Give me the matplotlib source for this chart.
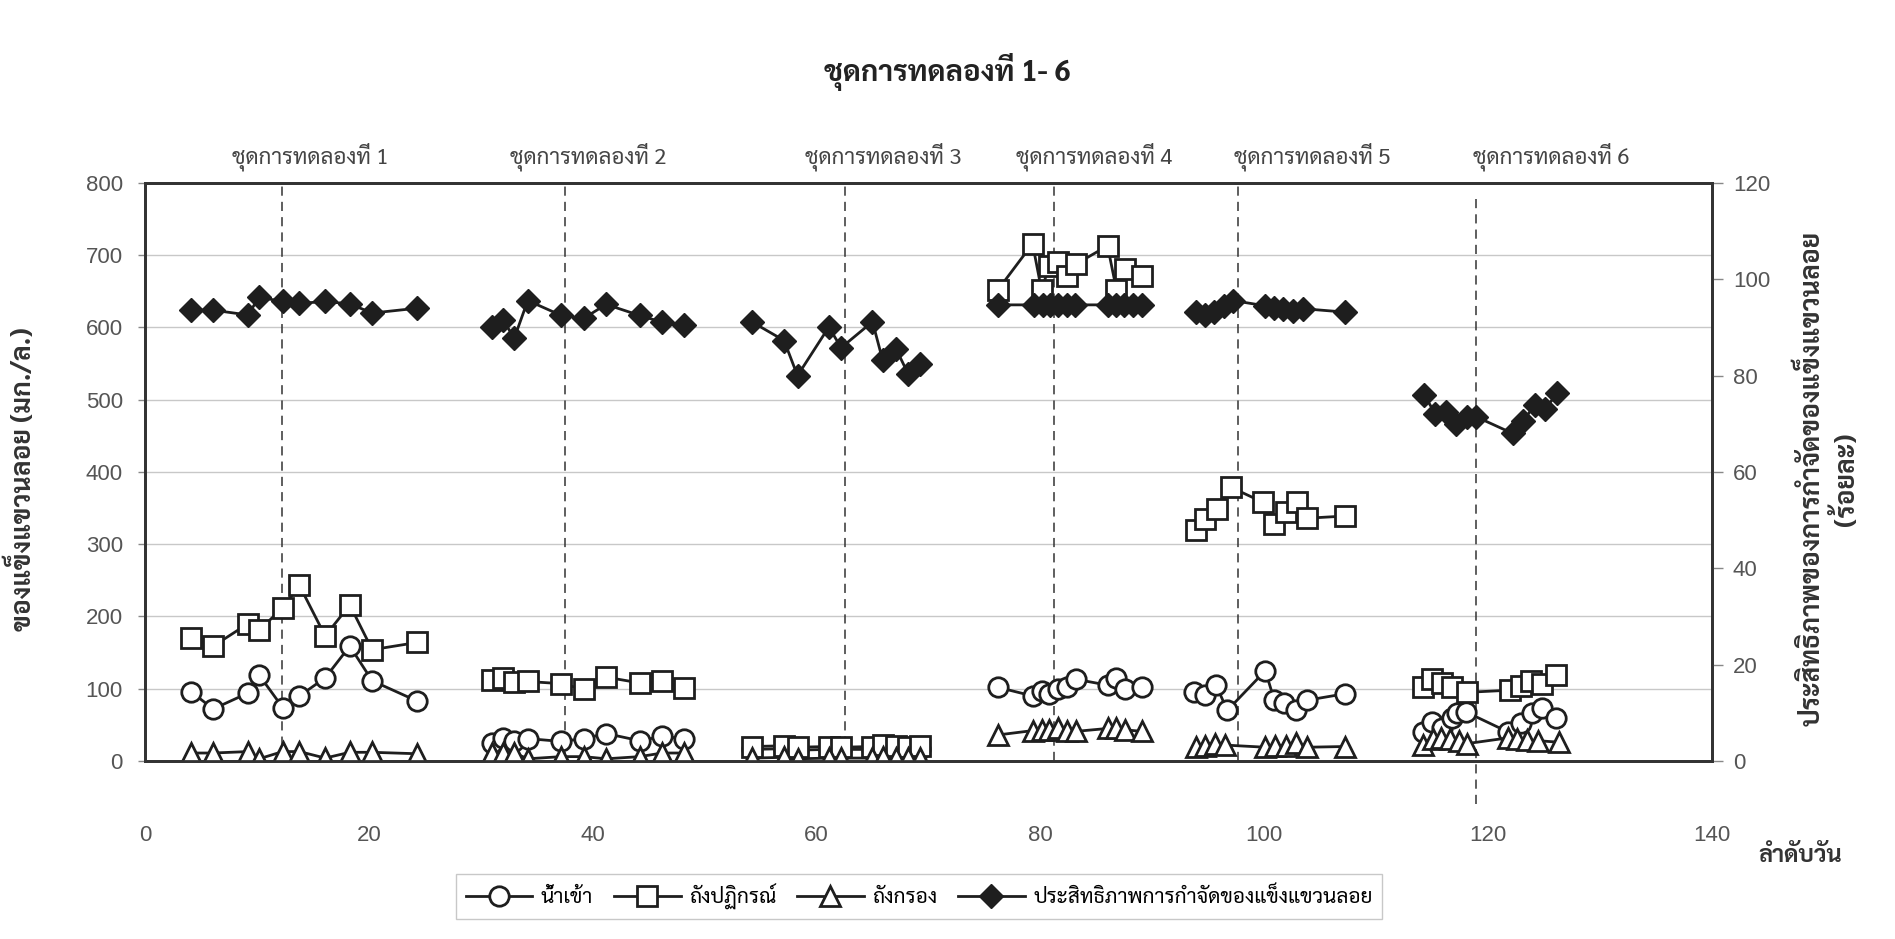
import numpy as np
import matplotlib
matplotlib.use("Agg")
import matplotlib.pyplot as plt
from matplotlib import font_manager as fm
from matplotlib.ft2font import FT2Font
from matplotlib.lines import Line2D
import matplotlib.transforms as mtransforms

nan = np.nan

# ---------------- data ----------------
# day number (x) and values; nan separates the six experiment sets
influent_day = [4.1, 6.1, 9.2, 10.2, 12.3, 13.8, 16.1, 18.3, 20.3, 24.3, nan,
                31.0, 32.0, 33.0, 34.2, 37.2, 39.2, 41.2, 44.2, 46.2, 48.2, nan,
                54.2, 57.1, 58.3, 61.1, 62.2, 65.0, 65.9, 67.1, 68.2, 69.2, nan,
                76.2, 79.3, 80.1, 80.8, 81.6, 82.4, 83.2, 86.0, 86.8, 87.6, 89.1, nan,
                93.7, 94.7, 95.7, 96.7, 100.1, 100.9, 101.8, 102.8, 103.8, 107.2, nan,
                114.2, 115.0, 115.9, 116.8, 117.2, 118.0, 121.8, 122.9, 123.9, 124.8, 126.1]
influent_ss = [96, 72, 94, 119, 74, 90, 115, 159, 111, 83, nan,
               25, 32, 28, 31, 27, 31, 38, 28, 34, 31, nan,
               16, 17, 15, 16, 16, 16, 18, 16, 16, 17, nan,
               102, 90, 97, 93, 99, 103, 113, 105, 115, 99, 102, nan,
               96, 92, 105, 70, 125, 84, 80, 70, 84, 93, nan,
               40, 54, 46, 60, 66, 68, 40, 53, 66, 73, 60]

reactor_day = [4.1, 6.1, 9.2, 10.2, 12.3, 13.8, 16.1, 18.3, 20.3, 24.3, nan,
               31.0, 32.0, 33.0, 34.2, 37.2, 39.2, 41.2, 44.2, 46.2, 48.2, nan,
               54.2, 57.1, 58.3, 61.1, 62.2, 65.0, 65.9, 67.1, 68.2, 69.2, nan,
               76.2, 79.3, 80.1, 80.8, 81.6, 82.4, 83.2, 86.0, 86.8, 87.6, 89.1, nan,
               93.9, 94.7, 95.8, 97.0, 99.9, 100.9, 101.9, 102.9, 103.8, 107.2, nan,
               114.2, 115.0, 115.9, 116.8, 118.1, 122.0, 122.9, 123.8, 124.8, 126.1]
reactor_ss = [170, 159, 190, 181, 212, 243, 173, 216, 154, 164, nan,
              112, 115, 109, 110, 107, 99, 116, 108, 110, 101, nan,
              20, 21, 19, 20, 19, 20, 22, 21, 20, 21, nan,
              652, 716, 652, 685, 691, 671, 688, 713, 652, 681, 671, nan,
              320, 335, 349, 379, 358, 328, 344, 358, 336, 339, nan,
              103, 113, 108, 103, 95, 98, 104, 110, 106, 119]

filter_day = [4.1, 6.1, 9.2, 10.2, 12.3, 13.8, 16.1, 18.3, 20.3, 24.3, nan,
              31.0, 32.0, 33.0, 34.2, 37.2, 39.2, 41.2, 44.2, 46.2, 48.2, nan,
              54.2, 57.1, 58.3, 61.1, 62.2, 65.0, 65.9, 67.1, 68.2, 69.2, nan,
              76.2, 79.3, 80.1, 80.8, 81.6, 82.4, 83.2, 86.0, 86.8, 87.6, 89.1, nan,
              93.9, 94.7, 95.6, 96.5, 100.1, 101.0, 101.9, 102.8, 103.8, 107.2, nan,
              114.2, 115.1, 115.8, 116.6, 117.4, 118.1, 121.8, 122.6, 123.5, 124.5, 126.3]
filter_ss = [11, 11, 13, 3, 13, 13, 4, 12, 12, 10, nan,
             11, 11, 11, 3, 6, 6, 3, 6, 11, 11, nan,
             4, 5, 3, 4, 4, 4, 5, 4, 4, 4, nan,
             36, 42, 43, 43, 45, 41, 41, 45, 45, 43, 41, nan,
             20, 21, 23, 22, 19, 21, 21, 25, 19, 20, nan,
             22, 30, 32, 30, 28, 24, 32, 30, 29, 28, 26]

eff_day = [4.1, 6.1, 9.2, 10.2, 12.3, 13.8, 16.1, 18.3, 20.3, 24.3, nan,
           31.0, 32.0, 33.0, 34.2, 37.2, 39.2, 41.2, 44.2, 46.2, 48.2, nan,
           54.2, 57.1, 58.3, 61.1, 62.2, 65.0, 65.9, 67.1, 68.2, 69.2, nan,
           76.2, 79.4, 80.2, 80.9, 81.6, 82.4, 83.1, 86.0, 86.8, 87.5, 88.3, 89.1, nan,
           93.9, 94.7, 95.5, 96.4, 97.2, 100.1, 100.9, 101.7, 102.6, 103.5, 107.2, nan,
           114.3, 115.3, 116.2, 117.1, 118.1, 118.9, 122.2, 123.1, 124.2, 125.1, 126.2]
eff_pct = [93.6, 93.6, 92.6, 96.3, 95.4, 95.0, 95.4, 94.9, 93.0, 94.0, nan,
           90.2, 91.5, 87.8, 95.6, 92.5, 91.9, 94.8, 92.5, 91.1, 90.5, nan,
           91.2, 87.3, 80.0, 90.1, 85.8, 91.2, 83.3, 85.6, 80.3, 82.4, nan,
           94.7, 94.7, 94.7, 94.7, 94.7, 94.7, 94.7, 94.7, 94.7, 94.7, 94.7, 94.7, nan,
           93.3, 92.5, 93.3, 94.5, 95.6, 94.5, 94.1, 93.8, 93.5, 93.9, 93.2, nan,
           76.0, 72.0, 72.5, 70.0, 71.5, 71.5, 68.0, 70.5, 74.0, 73.0, 76.5]

# dashed separators and set labels
set_names = ["ชุดการทดลองที่ 1", "ชุดการทดลองที่ 2", "ชุดการทดลองที่ 3",
             "ชุดการทดลองที่ 4", "ชุดการทดลองที่ 5", "ชุดการทดลองที่ 6"]
set_label_day = [14.8, 39.6, 66.0, 84.8, 104.3, 125.6]
divider_day = [12.2, 37.5, 62.5, 81.2, 97.7, 118.9]

x_ticks = [0, 20, 40, 60, 80, 100, 120, 140]
left_ticks = [0, 100, 200, 300, 400, 500, 600, 700, 800]
right_ticks = [0, 20, 40, 60, 80, 100, 120]

title_text = "ชุดการทดลองที่ 1- 6"
ylabel_left = "ของแข็งแขวนลอย (มก./ล.)"
ylabel_right = "ประสิทธิภาพของการกำจัดของแข็งแขวนลอย\n(ร้อยละ)"
xlabel_text = "ลำดับวัน"
legend_labels = ["น้ำเข้า", "ถังปฏิกรณ์", "ถังกรอง",
                 "ประสิทธิภาพการกำจัดของแข็งแขวนลอย"]

# ---------------- fonts ----------------
def has_thai(path):
    try:
        return 0x0E01 in FT2Font(path).get_charmap()
    except Exception:
        return False

thai_names = {f.name for f in fm.fontManager.ttflist if has_thai(f.fname)}
thai_font = None
for p in ["Sarabun", "Noto Sans Thai Looped", "Noto Sans Thai", "Loma", "Garuda"]:
    if p in thai_names:
        thai_font = p
        break
if thai_font is None and thai_names:
    thai_font = sorted(thai_names)[0]
fam = [thai_font, "DejaVu Sans"] if thai_font else ["DejaVu Sans"]
plt.rcParams["font.family"] = fam
digit_font = "Liberation Sans"

ink = "#1e1e1e"
gray_txt = "#555555"

fig = plt.figure(figsize=(18.95, 9.39), dpi=100)
fig.patch.set_facecolor("white")
ax = fig.add_axes([0.0765, 0.1896, 0.8269, 0.6155])
ax2 = ax.twinx()

ax.set_xlim(0, 140)
ax.set_ylim(0, 800)
ax2.set_ylim(0, 120)

ax.yaxis.grid(True, color="#c8c8c8", lw=1.0)
ax.set_axisbelow(True)

for d in divider_day[:5]:
    ax.plot([d, d], [0, 800], ls=(0, (6, 4)), color="#333333", lw=1.1, zorder=1)
ax.plot([divider_day[5]] * 2, [778, -60], ls=(0, (6, 4)), color="#333333",
        lw=1.1, zorder=1, clip_on=False)

kw = dict(color=ink, lw=2.0, mec=ink, mew=2.0, mfc="white")
ax.plot(influent_day, influent_ss, marker="o", ms=14, zorder=3, **kw)
ax.plot(reactor_day, reactor_ss, marker="s", ms=15, zorder=4, **kw)
ax.plot(filter_day, filter_ss, marker="^", ms=14, zorder=5, **kw)
ax2.plot(eff_day, eff_pct, marker="D", ms=12, color=ink, lw=2.0, mec=ink,
         mfc=ink, zorder=6)

for a in (ax, ax2):
    for s in a.spines.values():
        s.set_color("#333333")
        s.set_linewidth(2.0)

ax.set_xticks(x_ticks)
ax.set_xticklabels([str(v) for v in x_ticks], fontfamily=digit_font)
ax.tick_params(axis="x", length=0, pad=46, labelsize=16, labelcolor=gray_txt)
ax.set_yticks(left_ticks)
ax.set_yticklabels([str(v) for v in left_ticks], fontfamily=digit_font)
ax.tick_params(axis="y", length=5, width=1, color="#888888", pad=11,
               labelsize=16, labelcolor=gray_txt)
ax2.set_yticks(right_ticks)
ax2.set_yticklabels([str(v) for v in right_ticks], fontfamily=digit_font)
ax2.tick_params(axis="y", length=8, width=1, color="#888888", pad=7,
                labelsize=16, labelcolor=gray_txt)

trans = mtransforms.blended_transform_factory(ax.transData, ax.transAxes)
for name, d in zip(set_names, set_label_day):
    ax.text(d, 1.045, name, transform=trans, ha="center", va="center",
            fontsize=16, color="#444444")

fig.text(0.5, 0.923, title_text, ha="center", va="center", fontsize=21,
         fontweight="bold", color="#222222")
fig.text(0.0116, 0.49, ylabel_left, rotation=90, ha="center", va="center",
         fontsize=19, fontweight="bold", color="#333333")
fig.text(0.965, 0.49, ylabel_right, rotation=90, ha="center", va="center",
         multialignment="center", fontsize=19, fontweight="bold",
         color="#333333", linespacing=1.25)
fig.text(0.950, 0.088, xlabel_text, ha="center", va="center", fontsize=17,
         fontweight="bold", color="#333333")

handles = [
    Line2D([], [], marker="o", ms=14, **kw),
    Line2D([], [], marker="s", ms=14, **kw),
    Line2D([], [], marker="^", ms=14, **kw),
    Line2D([], [], marker="D", ms=12, color=ink, lw=2.0, mec=ink, mfc=ink),
]
leg = fig.legend(handles, legend_labels, loc="center", bbox_to_anchor=(0.485, 0.045),
                 ncol=4, frameon=True, fancybox=False, edgecolor="#bbbbbb",
                 fontsize=15, handlelength=3.2, columnspacing=1.0,
                 handletextpad=0.4, borderpad=0.45)
leg.get_frame().set_linewidth(1.0)

fig.savefig("out.png", dpi=100, facecolor="white")
